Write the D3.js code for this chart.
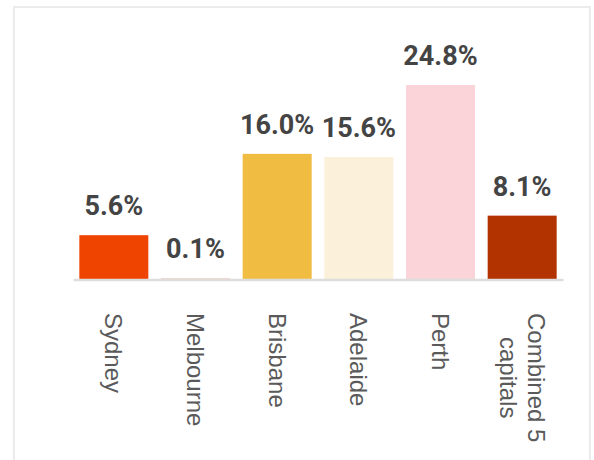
<!DOCTYPE html>
<html>
<head>
<meta charset="utf-8">
<script src="https://cdn.jsdelivr.net/npm/d3@7"></script>
<style>
  html, body { margin: 0; padding: 0; background: #ffffff; }
  svg { display: block; }
</style>
</head>
<body>
<svg id="chart" width="594" height="460"></svg>
<script>
const categories = ["Sydney", "Melbourne", "Brisbane", "Adelaide", "Perth", "Combined 5 capitals"];
const categoryLines = [["Sydney"], ["Melbourne"], ["Brisbane"], ["Adelaide"], ["Perth"], ["Combined 5", "capitals"]];
const values = [5.6, 0.1, 16.0, 15.6, 24.8, 8.1];
const valueLabels = ["5.6%", "0.1%", "16.0%", "15.6%", "24.8%", "8.1%"];
const colors = ["#EF4400", "#F3C9B5", "#F0BC42", "#FBF0DA", "#FAD4D9", "#B23300"];

const svg = d3.select("#chart");

// card border
svg.append("path")
  .attr("d", "M14,460 L14,7 L590,7 L590,460")
  .attr("fill", "none")
  .attr("stroke", "#ebebeb")
  .attr("stroke-width", 2);

const x = d3.scaleBand()
  .domain(categories)
  .range([73, 563])
  .paddingInner(0.155)
  .paddingOuter(0.0775);

const y = d3.scaleLinear()
  .domain([0, 24.8])
  .range([279, 85]);

// bars
svg.append("g").selectAll("rect")
  .data(categories)
  .join("rect")
  .attr("x", d => x(d))
  .attr("width", x.bandwidth())
  .attr("y", (d, i) => y(values[i]))
  .attr("height", (d, i) => y(0) - y(values[i]))
  .attr("fill", (d, i) => colors[i]);

// baseline axis
const axis = svg.append("g")
  .attr("transform", "translate(0,279.5)")
  .call(d3.axisBottom(x).tickSize(0).tickFormat(""));
axis.select(".domain").attr("stroke", "#dddddd").attr("stroke-width", 2.5);

// value labels
svg.append("g").selectAll("text")
  .data(categories)
  .join("text")
  .attr("x", d => x(d) + x.bandwidth() / 2)
  .attr("y", (d, i) => y(values[i]) - 20)
  .attr("text-anchor", "middle")
  .attr("font-family", "Roboto, 'Liberation Sans', sans-serif")
  .attr("font-weight", 700)
  .attr("font-size", 27)
  .attr("fill", "#444444")
  .text((d, i) => valueLabels[i]);

// category labels (rotated)
const labelTop = 313;
const lineGap = 28;
categories.forEach((c, i) => {
  const lines = categoryLines[i];
  const cx = x(c) + x.bandwidth() / 2;
  const n = lines.length;
  const g = svg.append("g")
    .attr("transform", `translate(${cx},${labelTop}) rotate(90)`);
  const texts = lines.map((ln, j) => g.append("text")
    .attr("font-family", "'Liberation Sans', Arial, sans-serif")
    .attr("font-size", 24)
    .attr("fill", "#5a5a5a")
    .attr("text-anchor", "middle")
    .attr("y", (j - (n - 1) / 2) * lineGap)
    .attr("dy", "0.35em")
    .text(ln));
  const maxLen = d3.max(texts, t => t.node().getComputedTextLength());
  texts.forEach(t => t.attr("x", maxLen / 2));
});
</script>
</body>
</html>
